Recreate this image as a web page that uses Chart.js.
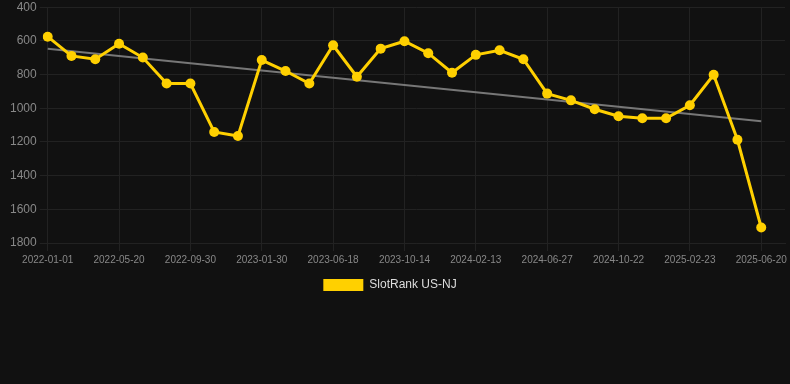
<!DOCTYPE html>
<html>
<head>
<meta charset="utf-8">
<script src="https://cdn.jsdelivr.net/npm/chart.js@4.4.1/dist/chart.umd.min.js"></script>
<style>
  html, body { margin: 0; padding: 0; background: #111111; }
  #wrap { width: 790px; height: 301px; position: relative; }
</style>
</head>
<body>
<div id="wrap"><canvas id="c"></canvas></div>
<script>
const categories = [
  '2022-01-01','2022-02-16','2022-04-03','2022-05-20','2022-07-03','2022-08-16',
  '2022-09-30','2022-11-09','2022-12-20','2023-01-30','2023-03-19','2023-05-03',
  '2023-06-18','2023-07-28','2023-09-05','2023-10-14','2023-11-23','2024-01-03',
  '2024-02-13','2024-03-29','2024-05-13','2024-06-27','2024-08-04','2024-09-13',
  '2024-10-22','2024-12-04','2025-01-13','2025-02-23','2025-04-03','2025-05-12',
  '2025-06-20','2025-07-30'
];
const rankValues = [
  575, 689, 709, 617, 699, 853, 853, 1141, 1165, 714, 779, 853,
  626, 813, 646, 602, 673, 789, 683, 656, 709, 913, 953, 1006,
  1047, 1059, 1059, 982, 801, 1187, 1708, null
];
const trendStart = 646;
const trendEnd = 1077;
const trendIndexEnd = 30;
const yTicks = [400, 600, 800, 1000, 1200, 1400, 1600, 1800];
const seriesName = 'SlotRank US-NJ';

const trendValues = categories.map((_, i) => i === 0 ? trendStart : (i === trendIndexEnd ? trendEnd : null));

const yellow = '#FFD000';
const gridColor = '#222222';

const legendShift = {
  id: 'legendShift',
  afterLayout(chart) {
    if (chart.legend) { chart.legend.left -= 7; chart.legend.right -= 7; }
  }
};

new Chart(document.getElementById('c'), {
  type: 'line',
  plugins: [legendShift],
  data: {
    labels: categories,
    datasets: [
      {
        label: seriesName,
        data: rankValues,
        borderColor: yellow,
        backgroundColor: yellow,
        borderWidth: 3,
        pointRadius: 5,
        pointBackgroundColor: yellow,
        pointBorderColor: yellow,
        pointBorderWidth: 0,
        tension: 0,
        order: 1
      },
      {
        label: 'trend',
        data: trendValues,
        borderColor: '#777777',
        backgroundColor: '#777777',
        borderWidth: 2,
        pointRadius: 0,
        spanGaps: true,
        tension: 0,
        order: 2
      }
    ]
  },
  options: {
    responsive: true,
    maintainAspectRatio: false,
    animation: false,
    layout: { padding: { left: 7, right: 3, top: 0, bottom: 0 } },
    plugins: {
      legend: {
        position: 'bottom',
        labels: {
          color: '#dddddd',
          boxWidth: 40,
          boxHeight: 12,
          font: { size: 12, family: 'Liberation Sans, Arial, sans-serif' },
          generateLabels: (chart) => Chart.defaults.plugins.legend.labels.generateLabels(chart)
            .filter(it => it.datasetIndex === 0)
            .map(it => Object.assign(it, { lineWidth: 0 }))
        }
      },
      tooltip: { enabled: false }
    },
    scales: {
      x: {
        grid: { color: gridColor, tickColor: gridColor },
        border: { color: gridColor },
        ticks: {
          color: '#888888',
          autoSkip: false,
          maxRotation: 0,
          font: { size: 10, family: 'Liberation Sans, Arial, sans-serif' },
          callback: function (v, i) { return i % 3 === 0 && i <= 30 ? categories[i] : null; }
        }
      },
      y: {
        reverse: true,
        min: yTicks[0],
        max: yTicks[yTicks.length - 1],
        grid: { color: gridColor, tickColor: gridColor },
        border: { display: false },
        afterBuildTicks: (axis) => { axis.ticks = yTicks.map(v => ({ value: v })); },
        ticks: {
          color: '#888888',
          font: { size: 12, lineHeight: 0.7, family: 'Liberation Sans, Arial, sans-serif' },
          callback: (v) => String(v)
        }
      }
    }
  }
});
</script>
</body>
</html>
